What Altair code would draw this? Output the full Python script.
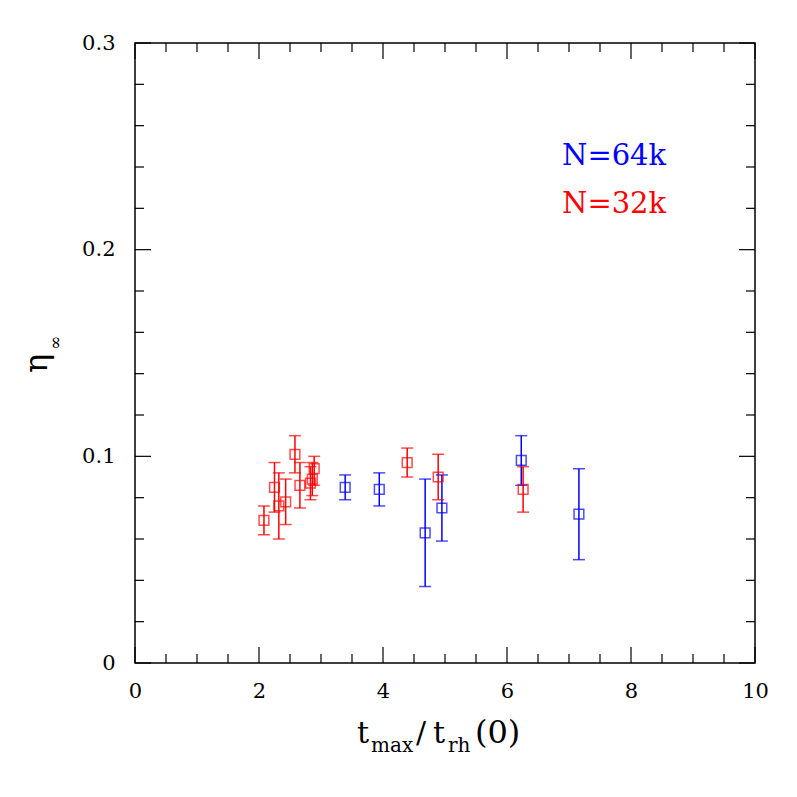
import altair as alt
import pandas as pd

# ---- data ----
red_x = [2.08, 2.25, 2.32, 2.43, 2.58, 2.66, 2.83, 2.86, 2.89, 4.39, 4.89, 6.26]
red_y = [0.069, 0.085, 0.076, 0.078, 0.101, 0.086, 0.087, 0.089, 0.094, 0.097, 0.090, 0.084]
red_lo = [0.062, 0.073, 0.060, 0.067, 0.092, 0.075, 0.079, 0.081, 0.086, 0.090, 0.079, 0.073]
red_hi = [0.076, 0.097, 0.092, 0.089, 0.110, 0.097, 0.095, 0.097, 0.100, 0.104, 0.101, 0.095]

blue_x = [3.39, 3.94, 4.68, 4.95, 6.23, 7.16]
blue_y = [0.085, 0.084, 0.063, 0.075, 0.098, 0.072]
blue_lo = [0.079, 0.076, 0.037, 0.059, 0.086, 0.050]
blue_hi = [0.091, 0.092, 0.089, 0.091, 0.110, 0.094]

series_names = ["N=64k", "N=32k"]
series_colors = ["#0000ff", "#ff0000"]

x_major = [0, 2, 4, 6, 8, 10]
x_minor = [0.5, 1, 1.5, 2.5, 3, 3.5, 4.5, 5, 5.5, 6.5, 7, 7.5, 8.5, 9, 9.5]
y_major = [0, 0.1, 0.2, 0.3]
y_minor = [0.02, 0.04, 0.06, 0.08, 0.12, 0.14, 0.16, 0.18, 0.22, 0.24, 0.26, 0.28]

FONT = "DejaVu Serif"
W = H = 620
MAJ, MIN = 16, 9

df = pd.concat([
    pd.DataFrame({"x": blue_x, "y": blue_y, "lo": blue_lo, "hi": blue_hi, "s": series_names[0]}),
    pd.DataFrame({"x": red_x, "y": red_y, "lo": red_lo, "hi": red_hi, "s": series_names[1]}),
])

xs = alt.Scale(domain=[0, 10], nice=False, zero=False)
ys = alt.Scale(domain=[0, 0.3], nice=False, zero=False)
cscale = alt.Scale(domain=series_names, range=series_colors)
col = alt.Color("s:N", scale=cscale, legend=None)

base = alt.Chart(df)

xaxis = alt.Axis(values=x_major, format="d", title=None, labelPadding=17, grid=False,
                 ticks=False, domain=False, labelFlush=False, labelFont=FONT,
                 labelFontSize=21, labelColor="black")
yaxis = alt.Axis(values=y_major, format=".1~f", title=None, labelPadding=20, grid=False,
                 ticks=False, domain=False, labelFlush=False, labelFont=FONT,
                 labelFontSize=21, labelColor="black")

bars = base.mark_rule(strokeWidth=1.5).encode(
    x=alt.X("x:Q", scale=xs, axis=xaxis),
    y=alt.Y("lo:Q", scale=ys, axis=yaxis),
    y2="hi:Q",
    color=col,
)
cap_lo = base.mark_tick(orient="horizontal", size=12, thickness=1.5).encode(
    x=alt.X("x:Q", scale=xs), y=alt.Y("lo:Q", scale=ys), color=col)
cap_hi = base.mark_tick(orient="horizontal", size=12, thickness=1.5).encode(
    x=alt.X("x:Q", scale=xs), y=alt.Y("hi:Q", scale=ys), color=col)
pts = base.mark_point(shape="square", filled=False, size=95, strokeWidth=1.5).encode(
    x=alt.X("x:Q", scale=xs), y=alt.Y("y:Q", scale=ys),
    stroke=alt.Stroke("s:N", scale=cscale, legend=None))

# inward ticks on all four sides
def xticks(vals, length):
    d = pd.DataFrame({"v": vals})
    bot = alt.Chart(d).mark_rule(color="black", strokeWidth=1.2).encode(
        x=alt.X("v:Q", scale=xs), y=alt.value(H), y2=alt.value(H - length))
    top = alt.Chart(d).mark_rule(color="black", strokeWidth=1.2).encode(
        x=alt.X("v:Q", scale=xs), y=alt.value(0), y2=alt.value(length))
    return bot + top

def yticks(vals, length):
    d = pd.DataFrame({"v": vals})
    left = alt.Chart(d).mark_rule(color="black", strokeWidth=1.2).encode(
        y=alt.Y("v:Q", scale=ys), x=alt.value(0), x2=alt.value(length))
    right = alt.Chart(d).mark_rule(color="black", strokeWidth=1.2).encode(
        y=alt.Y("v:Q", scale=ys), x=alt.value(W), x2=alt.value(W - length))
    return left + right

ticks = xticks(x_major, MAJ) + xticks(x_minor, MIN) + yticks(y_major, MAJ) + yticks(y_minor, MIN)

def label(txt, x, y, size, color="black", angle=0):
    kw = dict(text=txt, align="left", baseline="alphabetic", font=FONT, fontSize=size, color=color)
    if angle:
        kw["angle"] = angle
    return alt.Chart(pd.DataFrame({"a": [0]})).mark_text(**kw).encode(
        x=alt.value(x), y=alt.value(y))

leg = label(series_names[0], 427, 122, 29, series_colors[0]) + \
      label(series_names[1], 427, 170, 29, series_colors[1])

# x title: t_max / t_rh (0)
xt = (label("t", 222, 700, 30) + label("max", 236, 709, 20) + label("/", 281, 700, 30)
      + label("t", 298, 700, 30) + label("rh", 313, 709, 20) + label("(0)", 340, 700, 32))
# y title: eta_inf rotated
yt = label("η", -88, 330, 32, angle=270) + label("∞", -74, 307, 17, angle=270)

chart = alt.layer(bars, cap_lo, cap_hi, pts, ticks, leg, xt, yt).properties(
    width=W, height=H,
    autosize=alt.AutoSizeParams(type="none"),
    padding={"left": 127, "top": 35, "right": 34, "bottom": 126},
    background="white",
).configure_view(stroke="black", strokeWidth=1.5)

chart.save("out.html", embed_options={"renderer": "svg", "actions": False})
